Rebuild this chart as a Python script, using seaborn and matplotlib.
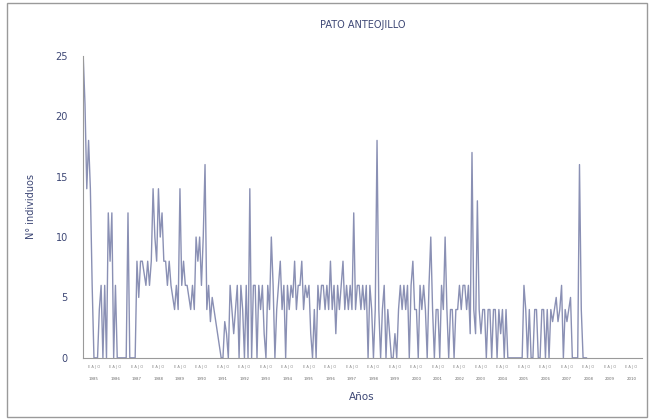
import numpy as np
import pandas as pd
import seaborn as sns
import matplotlib.pyplot as plt
from matplotlib.patches import Rectangle
from matplotlib.transforms import blended_transform_factory

# monthly counts
individuos = [
    25, 21, 14, 18, 14, 6, 0, 0, 0, 4, 6, 0, 6,
    0, 12, 8, 12, 0, 6, 0,
    0, 0, 0, 0, 0,
    12, 0, 0, 0, 0,
    8, 5, 8, 8, 7, 6, 8, 6, 8,
    14,
    10, 8, 14, 10, 12, 8, 8, 6,
    8, 6, 5, 4, 6, 4,
    14, 6,
    8, 6, 6, 5, 4, 6, 4,
    10, 8, 10, 6, 10,
    16,
    4, 6, 3, 5, 4, 3, 2, 1, 0,
    0, 3, 2, 0,
    6, 4, 2, 4, 6, 0, 6, 4, 0, 6, 0,
    14, 0, 6, 6, 0, 6, 4, 6,
    2, 0, 6, 4,
    10,
    6, 0, 4, 6, 8,
    4, 6, 0, 6,
    4, 6, 5, 8,
    4, 6, 6, 8,
    4, 6, 5, 6, 2, 0,
    4, 0, 6, 4, 6,
    6, 4, 6, 4, 8,
    4, 6, 2, 6,
    4, 6, 8, 4, 6,
    4, 6, 4,
    12,
    4, 6, 6, 4, 6, 4, 6, 0, 6,
    4, 0, 4,
    18,
    4, 0, 4, 6, 0, 4,
    2, 0, 0, 2, 0, 4, 6,
    4, 6, 4, 6, 0, 6,
    8, 4, 4, 0, 6, 4,
    6, 4, 0, 6,
    10,
    4, 0, 4, 4, 0, 6, 4,
    10,
    4, 0, 4, 4, 0, 4, 4, 6, 4,
    6, 6, 4, 6, 2,
    17,
    4, 2, 13,
    4, 2, 4, 4, 0, 4, 4, 0, 4, 4, 0, 4, 2, 4, 0, 4, 0, 0,
    0, 0, 0, 0, 0, 0, 0,
    6,
    4, 0, 4, 0, 0, 4, 4, 0, 0, 4, 4, 0, 4, 0, 4,
    3, 4, 5, 3, 4, 6, 0, 4,
    3, 4, 5, 0, 0, 0, 0,
    16,
    4, 0, 0, 0,
]
years = [str(y) for y in range(1985, 2011)]
sub_labels = "E A J O"
y_ticks = [0, 5, 10, 15, 20, 25]

line_color = "#8a90b4"
text_color = "#3d4775"
axis_color = "#9a9a9a"

df = pd.DataFrame({"mes": np.arange(len(individuos)), "n": individuos})

sns.set_style("white")
fig = plt.figure(figsize=(6.5, 4.2), dpi=100)
ax = fig.add_axes([0.128, 0.148, 0.860, 0.719])

sns.lineplot(data=df, x="mes", y="n", color=line_color, linewidth=1.0, ax=ax)

n_months = 12 * len(years)
ax.set_xlim(0, n_months)
ax.set_ylim(0, 25)
ax.set_yticks(y_ticks)
ax.set_yticklabels([str(v) for v in y_ticks], fontsize=7, color=text_color)
ax.tick_params(axis="y", direction="out", length=3, color=axis_color, pad=8)

# group separators below the axis
ax.set_xticks(np.arange(0, n_months + 1, 12))
ax.set_xticklabels([])
ax.tick_params(axis="x", direction="out", length=19, color="#c4c4c4", width=0.8)

trans = blended_transform_factory(ax.transData, ax.transAxes)
for k, yr in enumerate(years):
    c = 12 * k + 6
    ax.text(c, -0.03, sub_labels, transform=trans, ha="center", va="center",
            fontsize=2.6, color="#8a8a8a")
    ax.text(c, -0.07, yr, transform=trans, ha="center", va="center",
            fontsize=2.8, color="#6a6a6a")

for side in ["top", "right"]:
    ax.spines[side].set_visible(False)
ax.spines["left"].set_color(axis_color)
ax.spines["bottom"].set_color(axis_color)

ax.set_title("PATO ANTEOJILLO", fontsize=7, color=text_color, pad=20)
ax.set_ylabel("N° individuos", fontsize=7, color=text_color, labelpad=14)
ax.set_xlabel("")
fig.text(362 / 650, 1 - 397 / 420, "Años", ha="center", va="center",
         fontsize=7.5, color=text_color)

fig.patches.append(Rectangle((0.011, 0.008), 0.985, 0.985, transform=fig.transFigure,
                             fill=False, edgecolor="#9a9a9a", linewidth=1.0))

fig.savefig("out.png", dpi=100)
